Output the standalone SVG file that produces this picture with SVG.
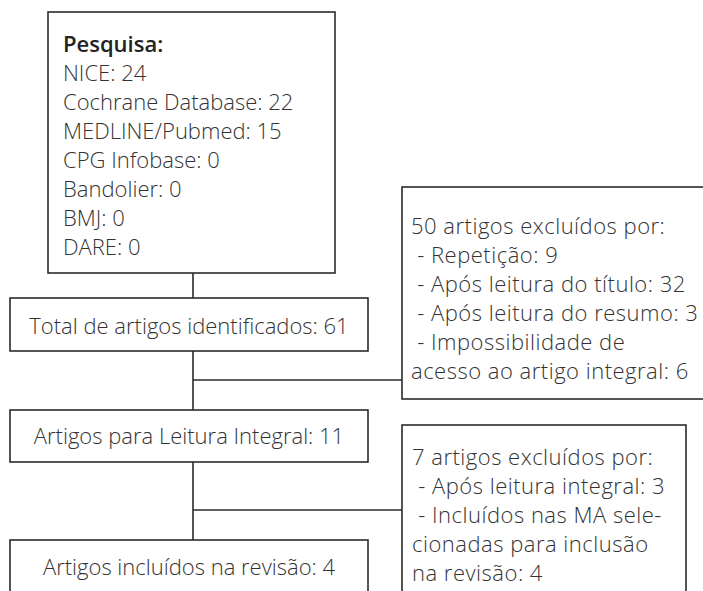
<svg xmlns="http://www.w3.org/2000/svg" width="703" height="591" viewBox="0 0 703 591">
<style>
.box{fill:#fff;stroke:#2b2b2b;stroke-width:1.6}
.t{font-family:"Open Sans","Liberation Sans",sans-serif;font-size:22px;font-weight:300;fill:#333}
.r{letter-spacing:0.5px}
.b{font-weight:600;fill:#222}
.c{text-anchor:middle}
.ln{stroke:#2b2b2b;stroke-width:1.6;fill:none}
</style>
<rect width="703" height="591" fill="#fff"/>
<g id="connectors">
<path class="ln" d="M193 273V298M193 351V410M193 380H402M193 462V540M193 510H402"/>
</g>
<g id="pesquisa">
<rect class="box" x="48" y="12" width="287" height="261"/>
<text class="t" x="63" y="52"><tspan class="b">Pesquisa:</tspan><tspan x="63" dy="29">NICE: 24</tspan><tspan x="63" dy="29">Cochrane Database: 22</tspan><tspan x="63" dy="29">MEDLINE/Pubmed: 15</tspan><tspan x="63" dy="29">CPG Infobase: 0</tspan><tspan x="63" dy="29">Bandolier: 0</tspan><tspan x="63" dy="29">BMJ: 0</tspan><tspan x="63" dy="29">DARE: 0</tspan></text>
</g>
<g id="total">
<rect class="box" x="10" y="298" width="358" height="53"/>
<text class="t c" x="189" y="334">Total de artigos identificados: 61</text>
</g>
<g id="excl1">
<rect class="box" x="402" y="187" width="310" height="212"/>
<text class="t r" x="411" y="234">50 artigos excluídos por:<tspan x="411" dy="29"> - Repetição: 9</tspan><tspan x="411" dy="29"> - Após leitura do título: 32</tspan><tspan x="411" dy="29"> - Após leitura do resumo: 3</tspan><tspan x="411" dy="29"> - Impossibilidade de</tspan><tspan x="411" dy="29">acesso ao artigo integral: 6</tspan></text>
</g>
<g id="leitura">
<rect class="box" x="10" y="410" width="358" height="52"/>
<text class="t c" x="189" y="444">Artigos para Leitura Integral: 11</text>
</g>
<g id="excl2">
<rect class="box" x="402" y="425" width="284" height="180"/>
<text class="t r" x="412" y="465">7 artigos excluídos por:<tspan x="412" dy="29"> - Após leitura integral: 3</tspan><tspan x="412" dy="29"> - Incluídos nas MA sele-</tspan><tspan x="412" dy="29">cionadas para inclusão</tspan><tspan x="412" dy="29">na revisão: 4</tspan></text>
</g>
<g id="incluidos">
<rect class="box" x="10" y="540" width="358" height="70"/>
<text class="t c" x="189" y="575">Artigos incluídos na revisão: 4</text>
</g>
</svg>
